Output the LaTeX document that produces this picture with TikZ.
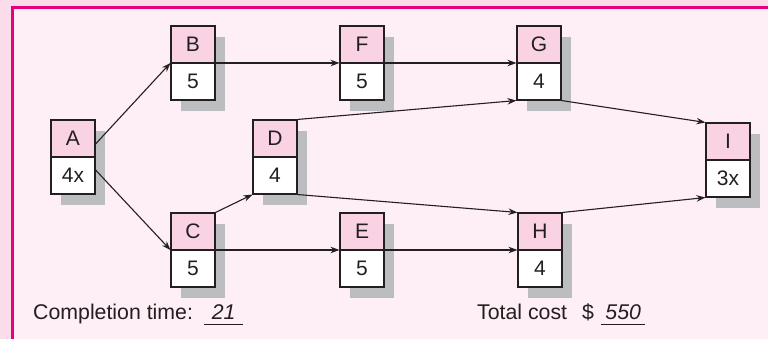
\documentclass[tikz,border=0pt]{standalone}
\usepackage{fontspec}
\setmainfont{Liberation Sans}
\usetikzlibrary{shadows,arrows.meta,positioning}

\definecolor{outerpink}{HTML}{FBDCEA}
\definecolor{innerpink}{HTML}{FEEEF5}
\definecolor{framepink}{HTML}{E5007D}
\definecolor{namefill}{HTML}{F9D3E4}
\definecolor{shadowgray}{HTML}{BCBDC0}
\definecolor{ink}{HTML}{231F20}

\begin{document}
\begin{tikzpicture}[
  x=1pt, y=1pt,
  node distance=0pt, on grid,
  font=\fontsize{21.3}{25}\selectfont, text=ink,
  task/.style={rectangle, draw=ink, line width=1.1pt, fill=white,
    minimum width=44pt, minimum height=74pt, inner sep=0pt, align=center,
    font=\fontsize{21}{37}\selectfont,
    path picture={
      \fill[namefill] (path picture bounding box.north west) rectangle (path picture bounding box.east);
      \draw[ink, line width=1.1pt] (path picture bounding box.west) -- (path picture bounding box.east);},
    drop shadow={shadow xshift=10pt, shadow yshift=-11pt, fill=shadowgray, opacity=1}},
  arrow/.style={-{Stealth[length=9pt,width=6.5pt]}, draw=ink, line width=1.1pt},
  caption/.style={inner sep=0pt, anchor=base west},
  answer/.style={inner sep=0pt, anchor=base west, font=\fontsize{21.3}{25}\selectfont\itshape}
]
  \useasboundingbox (0,0) rectangle (768,339);
  % backdrop and frame
  \fill[outerpink] (0,0) rectangle (768,339);
  \fill[innerpink] (12.5,-5) rectangle (775,331.7);
  \draw[framepink, line width=3pt] (12.5,-5) |- (775,331.7);

  % activities
  \node[task] (A) at (73,182) {A\\4x};
  \node[task, above right=94 and 120 of A] (B) {B\\5};
  \node[task, below right=93 and 120 of A] (C) {C\\5};
  \node[task, right=202 of A] (D) {D\\4};
  \node[task, right=169 of B] (F) {F\\5};
  \node[task, right=169 of C] (E) {E\\5};
  \node[task, right=177 of F] (G) {G\\4};
  \node[task, right=178 of E] (H) {H\\4};
  \node[task, right=655 of A, yshift=-3] (I) {I\\3x};

  % precedence
  \draw[arrow] ([yshift=13]A.east) -- (B.west);
  \draw[arrow] ([yshift=-13]A.east) -- (C.west);
  \draw[arrow] (B.east) -- (F.west);
  \draw[arrow] (F.east) -- (G.west);
  \draw[arrow] (C.north east) -- (D.south west);
  \draw[arrow] (C.east) -- (E.west);
  \draw[arrow] (E.east) -- (H.west);
  \draw[arrow] (D.north east) -- (G.south west);
  \draw[arrow] (D.south east) -- (H.north west);
  \draw[arrow] (G.south east) -- (I.north west);
  \draw[arrow] (H.north east) -- (I.south west);

  % results
  \node[caption] (ctlabel) at (33,19) {Completion time:};
  \node[answer, minimum width=39pt] (ctvalue) at (204,19) {21};
  \draw[ink, line width=1pt] ([yshift=-4.5]ctvalue.base west) -- ([yshift=-4.5]ctvalue.base east);
  \node[caption] (tclabel) at (477,19) {Total cost};
  \node[caption] (tcdollar) at (582,19) {\$};
  \node[answer, minimum width=44pt] (tcvalue) at (601,19) {550};
  \draw[ink, line width=1pt] ([yshift=-4.5]tcvalue.base west) -- ([yshift=-4.5]tcvalue.base east);
\end{tikzpicture}
\end{document}
